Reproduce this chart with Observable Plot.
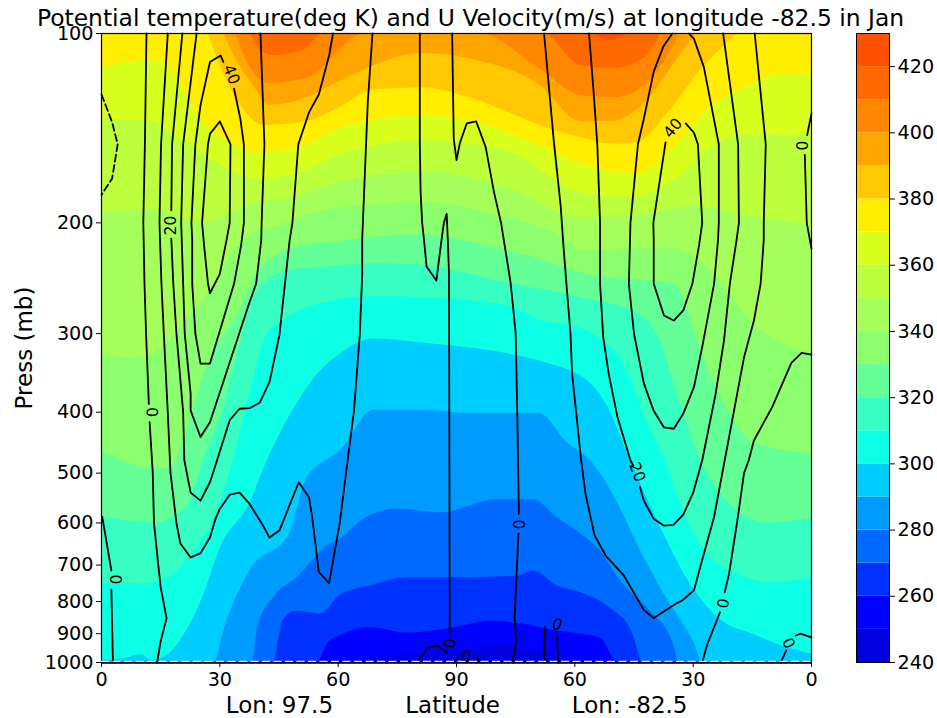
<!DOCTYPE html>
<html><head><meta charset="utf-8">
<script src="https://cdn.jsdelivr.net/npm/d3@7"></script>
<script src="https://cdn.jsdelivr.net/npm/@observablehq/plot@0.6"></script>
<style>
html,body{margin:0;padding:0;background:#fff;font-family:"DejaVu Sans",sans-serif}
#wrap{position:relative;width:937px;height:718px;overflow:hidden}
#title{position:absolute;left:0;top:4px;width:941px;text-align:center;font-size:23.4px;line-height:28px;color:#000;white-space:nowrap}
#main,#bar{position:absolute;top:0}
#main{left:0}#bar{left:856px}
svg{display:block}
</style></head><body>
<div id="wrap"><div id="main"></div><div id="bar"></div><div id="title">Potential temperature(deg K) and U Velocity(m/s) at longitude -82.5 in Jan</div></div>
<script>
const levels=[240,250,260,270,280,290,300,310,320,330,340,350,360,370,380,390,400,410,420];
const bandColors=["#0000e1","#0000ff","#0032ff","#0069ff","#009bff","#00cdff","#0dffe6","#37ffc3","#64ff96","#8cff6e","#a5ff5a","#bcff3c","#d8ff1e","#ffee00","#ffc800","#ffa500","#ff8700","#ff6900","#ff5000"];
const xTicks=[0,30,60,90,120,150,180];
const xTickLabels=[0,30,60,90,60,30,0];
const pressTicks=[100,200,300,400,500,600,700,800,900,1000];
const barTicks=[240,260,280,300,320,340,360,380,400,420];

const isen240=[[0,1000],[180,1000]];
const isen250=[[0,1000],[64.9,1000],[67.5,983],[94.3,958],[100,930],[108,958],[114.6,975],[118,1000],[180,1000]];
const isen260=[[0,1000],[54.8,1000],[57.3,934],[60.6,907],[68,880],[77.5,898],[88.5,883],[98.6,860],[106.2,868],[115.6,891],[121.5,901],[126.5,915],[131,1000],[180,1000]];
const isen270=[[0,1000],[43.6,1000],[46,858],[49.6,828],[55.5,837],[60.6,781],[68,756],[77.5,733],[88.5,733],[105.4,729],[109.5,716],[115.6,756],[121.5,775],[129,820],[134.4,891],[137.4,1000],[180,1000]];
const isen280=[[0,1000],[38.3,1000],[39.6,880],[43.6,789],[49.6,733],[58,648],[60.6,636],[66,595],[75,570],[86,578],[100.4,551],[109.5,551],[115.6,589],[121.5,624],[126.5,665],[131.6,742],[139,828],[145,934],[146.3,1000],[180,1000]];
const isen290=[[0,1000],[28.6,1000],[31,890],[37.6,715],[47.7,624],[52,510],[57.3,476],[60.6,460],[69,397],[81.6,397],[94,402],[111,402],[118,447],[124,478],[130,545],[136.7,665],[142.6,778],[150,924],[152.6,1000],[180,1000]];
const isen300=[[0,990],[5,988],[10,972],[13,993],[17.5,965],[22,880],[26,778],[30,660],[37.5,560],[42,478],[50,384],[55,347],[60,325],[69,306],[82.5,311],[103,323],[112,333],[124,360],[127.5,384],[135,492],[142.5,624],[150,762],[157.5,860],[165,901],[172.5,941],[180,969]];
const isen310=[[0,747],[10,750],[17.5,729],[22.5,677],[28.4,595],[32.7,495],[37,388],[41.6,304],[46.1,286],[60.6,265],[69,262],[81.6,263],[103,271],[111.3,286],[121.5,294],[126.5,306],[132.4,335],[137.4,402],[143,478],[146.8,560],[153.6,672],[161.3,723],[169.6,747],[180,733]];
const isen320=[[0,586],[14.2,600],[18.3,586],[22.5,553],[25.8,478],[31,394],[34.5,323],[39.6,256],[48,238],[60.6,234],[69,232],[81.6,234],[103,249],[121.5,263],[135.9,279],[141,302],[146.8,388],[152,478],[157,539],[162,580],[169,600],[180,591]];
const isen330=[[0,461],[13.5,492],[17.5,490],[21.7,424],[26.2,344],[34.5,279],[40.3,237],[50.5,218],[60.6,214],[81.6,209],[94,215],[111.3,229],[121.5,240],[140.5,248],[145,250],[152,317],[155,356],[159.4,402],[165,446],[180,466]];
const isen340=[[0,325],[8,328],[15,317],[23.4,276],[26.2,263],[32.5,227],[35,215],[45,202],[60.6,189],[81.6,186],[102,196],[119,215],[121.5,221],[143.5,219],[151,228],[157.5,250],[162.7,278],[168.7,300],[180,322]];
const isen350=[[0,192],[14.2,191],[25,200],[33.5,193],[39.6,186],[48,183],[60.6,172],[81.6,166],[103,176],[121.5,196],[138.4,194],[150,188],[162,194],[180,202]];
const isen360=[[0,137],[13,138],[18.3,145],[25,154],[32.7,165],[39.6,170],[48,168],[60.6,156],[81.6,148],[103,154],[121.5,179],[134,182],[147,168],[153.6,154],[162,145],[180,145]];
const isen370=[[0,113],[14.2,110],[17.5,114],[25,136],[32.7,149],[39.6,154],[50,152],[60.6,141],[81.6,135],[94,138],[111.3,151],[121.5,161],[136,167],[143.5,155],[155,130],[165.4,120],[172,116],[180,116]];
const isen380=[[27,100],[31,116],[36,132],[41,140],[52,138],[60.6,131],[69,123],[81.6,122],[94,127],[111.3,140],[121.5,146.5],[130,150],[136,149],[143.5,134],[152.6,113],[161.3,100]];
const isen390=[[31,100],[34.5,111],[38.5,121],[42.6,130],[52.7,126],[60.6,119],[81.6,107.6],[94,110],[111.3,121],[121.5,138],[130,138],[136,132],[149.3,103],[151,100]];
const isen400=[[34,100],[38,114],[42.5,120],[52.6,117.5],[60.6,106],[66.4,100],[95.4,100],[111.3,114],[121.5,125.5],[130,126.5],[138.4,120],[146.8,100]];
const isen410=[[37.8,100],[40.3,106.4],[43.5,108.4],[51.2,106.4],[56.2,100],[112,100],[121.5,112.5],[130,113.6],[137.5,109.6],[141.7,100]];
const isen420=[[124.8,100],[129,102.6],[133.4,100]];
const isentropes=[isen240,isen250,isen260,isen270,isen280,isen290,isen300,isen310,isen320,isen330,isen340,isen350,isen360,isen370,isen380,isen390,isen400,isen410,isen420];

// U velocity contour lines: [latitude position, pressure]
const uA1=[[11.4,100],[11,150],[10.6,200],[10.9,250],[11.3,300],[12,388]];
const uA2=[[12.2,415],[13,500],[13.3,600],[14.4,700],[15,759],[16.5,850],[15,925],[14.1,1000]];
const uB=[[16.8,100],[15.1,150],[14.7,200],[15.2,250],[15.8,300],[16.8,400],[17.5,500],[19,600],[20,647],[22.6,681],[25.1,670],[27.5,633],[28.9,591],[30,570],[32.5,541],[35,537],[37.4,558],[40.7,602],[42.6,633],[45.1,617],[50,517],[52.6,546],[53.4,587],[55.1,718],[57.7,748],[60.4,600],[62.4,477],[64,398],[65.5,300],[66.1,241],[66.1,212],[67.5,129],[68.7,100]];
const uC1=[[20.5,100],[17.9,150],[17.7,191]];
const uC2=[[17.7,212],[18.2,250],[19,300],[20.7,400],[21,477],[22.6,537],[25.1,553],[27.5,517],[29.3,477],[32.5,412],[35,395],[37.6,394],[40.1,386.5],[42.6,358],[45.1,302],[47.7,213],[48.4,200],[49.9,150],[52.6,133.5],[55.1,125],[57.7,108.4],[58.7,100]];
const uD=[[24.1,100],[20.7,150],[20.2,200],[20.7,250],[21.1,300],[22.6,373.5],[22.6,397.6],[25.1,438],[27.5,415],[37.4,269],[39.2,250],[40.5,213],[40.6,200],[41.3,150],[40.3,100]];
const uE=[[33.6,122.4],[35.2,136.6],[36.1,150],[36.1,200],[35.4,217],[33.6,250],[27.5,334.8],[25.1,334.8],[23.8,300],[23,250],[23,213],[22.8,200],[23.8,150],[25.1,130],[27.5,111],[30.2,108.4],[30.9,111]];
const uF=[[30,138],[27.5,144.4],[27,150],[25.5,200],[26,217],[27,250],[27.5,258.8],[30,241],[31.7,213],[32.5,200],[32.7,150],[30,138]];
const uDash=[[0,125],[2.7,138.4],[4.1,150],[2.7,170],[0,180.5]];
const uG1=[[0.2,587],[2.5,714]];
const uG2=[[2.5,766],[2.9,1000]];
const uH1=[[80.7,100],[80.7,150],[80.9,178.7],[81.3,200],[81.9,217],[82.4,234.6],[84.9,247],[86.2,213],[86.8,200],[87.5,193.5],[87.8,213],[88.1,241],[88.2,477],[88.3,900]];
const uH2=[[87.6,963],[85.1,940],[82.6,948],[79.9,1000]];
const uI1=[[88.9,100],[89.3,147],[90,159],[90.9,149],[92.6,139],[95,138],[97.4,151.6],[99.5,178.7],[101.3,200],[102.2,217],[103.7,248.6],[104.6,282.5],[105,300],[105.4,400],[105.6,477],[105.8,580]];
const uI2=[[105.7,624],[105,778],[104.7,850],[105.2,925],[104.1,1000]];
const uJ=[[112.2,100],[114.7,149],[116.4,187.7],[117.1,217],[118,256],[118.9,300],[119.3,347],[121.6,477],[122.7,539],[125,628],[127.8,676],[132.4,727],[137.5,825],[140,850],[145.5,807],[147.2,797],[150.2,768],[152,697],[155.3,587],[158,477],[162.9,327],[165.4,286],[167.1,250],[167.9,213],[167.9,200],[168.4,150],[165.6,100]];
const uK1=[[123.6,100],[124.7,122.4],[125.7,150],[126.4,200],[126.4,250],[127.2,304],[128.6,348],[130.8,407],[134.1,477],[134.8,486]];
const uK2=[[136.5,526],[137.5,553],[140,591],[142.6,606],[145,604],[147.5,582],[150,537],[152.3,477],[155.7,374],[157.8,308],[159.3,250],[161,213],[161.6,200],[161.4,150],[157.6,100]];
const uL=[[144.7,100],[142.4,105],[140,115],[137.5,136.6],[136,150],[134.1,200],[133.7,250],[135,300],[137.5,360],[140,398],[142.6,423],[145.1,425],[147.5,402],[150.2,365],[152.3,315],[155.3,250],[156.3,213],[156.5,200],[156.5,150],[152.7,113],[150.2,102],[148.9,100]];
const uM=[[148.1,139],[150.2,143.8],[151.2,150],[152.3,200],[151.5,217],[149.8,250],[147.5,275.6],[145.1,286],[142.6,280.8],[140,250],[140,213],[139.9,200],[143,149]];
const uN1=[[180,134],[178.9,145]];
const uN2=[[178.3,156],[178.8,200],[179.6,213],[180,219.7]];
const uO1=[[180,324],[177.5,322],[174.9,334],[170,393],[165.4,443.6],[164.1,477],[162.9,500],[161.2,595],[159.1,723],[158,773]];
const uO2=[[156.8,832],[155.3,879],[153.6,934],[152.3,1000]];
const uP=[[173.6,957],[172.2,1000]];
const uQ=[[176,906],[177.2,900],[180,912]];
const uR=[[112.4,879],[112.3,1000]];
const uS=[[115.5,904],[115.8,1000]];
const uT=[[89.3,1000],[90.2,986]];
const uU=[[95.1,981],[96.1,1000]];
const uSolid=[uA1,uA2,uB,uC1,uC2,uD,uE,uF,uG1,uG2,uH1,uH2,uI1,uI2,uJ,uK1,uK2,uL,uM,uN1,uN2,uO1,uO2,uP,uQ,uR,uS,uT,uU];

const labelX=[17.7,32.9,12.7,3.3,88.1,92.5,115.5,105.6,144.9,177.9,135.8,157.4,174.1];
const labelP=[202,116.2,400,738,932,978,870,603,141.4,150.7,498,805,932];
const labelText=["20","40","0","0","0","0","0","0","40","0","20","0","0"];
const labelAngle=[-90,68,88,90,95,5,20,90,-50,-90,70,100,65];
const contourLabels=labelX.map((x,i)=>({x,p:labelP[i],t:labelText[i],a:labelAngle[i]}));

const footX=[45.1,89,133.9];
const footText=["Lon: 97.5","Latitude","Lon: -82.5"];

const font={fontFamily:"'DejaVu Sans',sans-serif",fontSize:"19.2px",background:"transparent",color:"#000",overflow:"visible"};
const main=Plot.plot({
  width:937,height:718,marginLeft:101,marginRight:126,marginTop:33,marginBottom:56,style:font,
  x:{domain:[0,180],label:null},
  y:{type:"log",domain:[1000,100],label:null},
  marks:[
    ...isentropes.map((iso,i)=>Plot.areaY(iso,{x:d=>d[0],y1:()=>100,y2:d=>d[1],fill:bandColors[i],curve:"monotone-x",clip:true})),
    ...uSolid.map(u=>Plot.line(u,{x:d=>d[0],y:d=>d[1],stroke:"#000",strokeWidth:1.8,curve:"linear"})),
    Plot.line(uDash,{x:d=>d[0],y:d=>d[1],stroke:"#000",strokeWidth:1.8,strokeDasharray:"7,3.5",curve:"linear"}),
    Plot.text(contourLabels,{x:"x",y:"p",text:"t",rotate:"a",fontSize:15.5,fill:"#000"}),
    Plot.ruleY([1000],{stroke:"#000",strokeWidth:1.4,dy:0.5}),
    Plot.frame({stroke:"#000",strokeWidth:1.2}),
    Plot.ruleY([1000],{stroke:"#dfe6e6",strokeWidth:1.2,strokeDasharray:"8,3.5",dy:-1.2}),
    Plot.axisX(xTicks,{tickFormat:d=>xTickLabels[xTicks.indexOf(d)],tickSize:5,tickPadding:5,label:null,stroke:"#000"}),
    Plot.axisY(pressTicks,{tickFormat:d=>String(d),tickSize:5,tickPadding:3,label:null,stroke:"#000"}),
    Plot.text(["Press (mb)"],{frameAnchor:"left",textAnchor:"middle",rotate:-90,dx:-77,fontSize:23,fill:"#000"}),
    Plot.text(footText,{x:(d,i)=>footX[i],frameAnchor:"bottom",textAnchor:"middle",dy:50,fontSize:23,fill:"#000"})
  ]});
document.getElementById("main").appendChild(main);
const bar=Plot.plot({
  width:81,height:718,marginLeft:0,marginRight:48,marginTop:33,marginBottom:56,style:font,
  x:{domain:[0,1],axis:null},
  y:{domain:[240,430],label:null},
  marks:[
    Plot.rect(levels,{x1:()=>0,x2:()=>1,y1:d=>d,y2:d=>d+10,fill:(d,i)=>bandColors[i],inset:0}),
    Plot.frame({stroke:"#000",strokeWidth:1}),
    Plot.axisY(barTicks,{anchor:"right",tickSize:5,tickPadding:3,label:null,stroke:"#000"})
  ],
  color:{type:"identity"}});
document.getElementById("bar").appendChild(bar);
</script></body></html>
